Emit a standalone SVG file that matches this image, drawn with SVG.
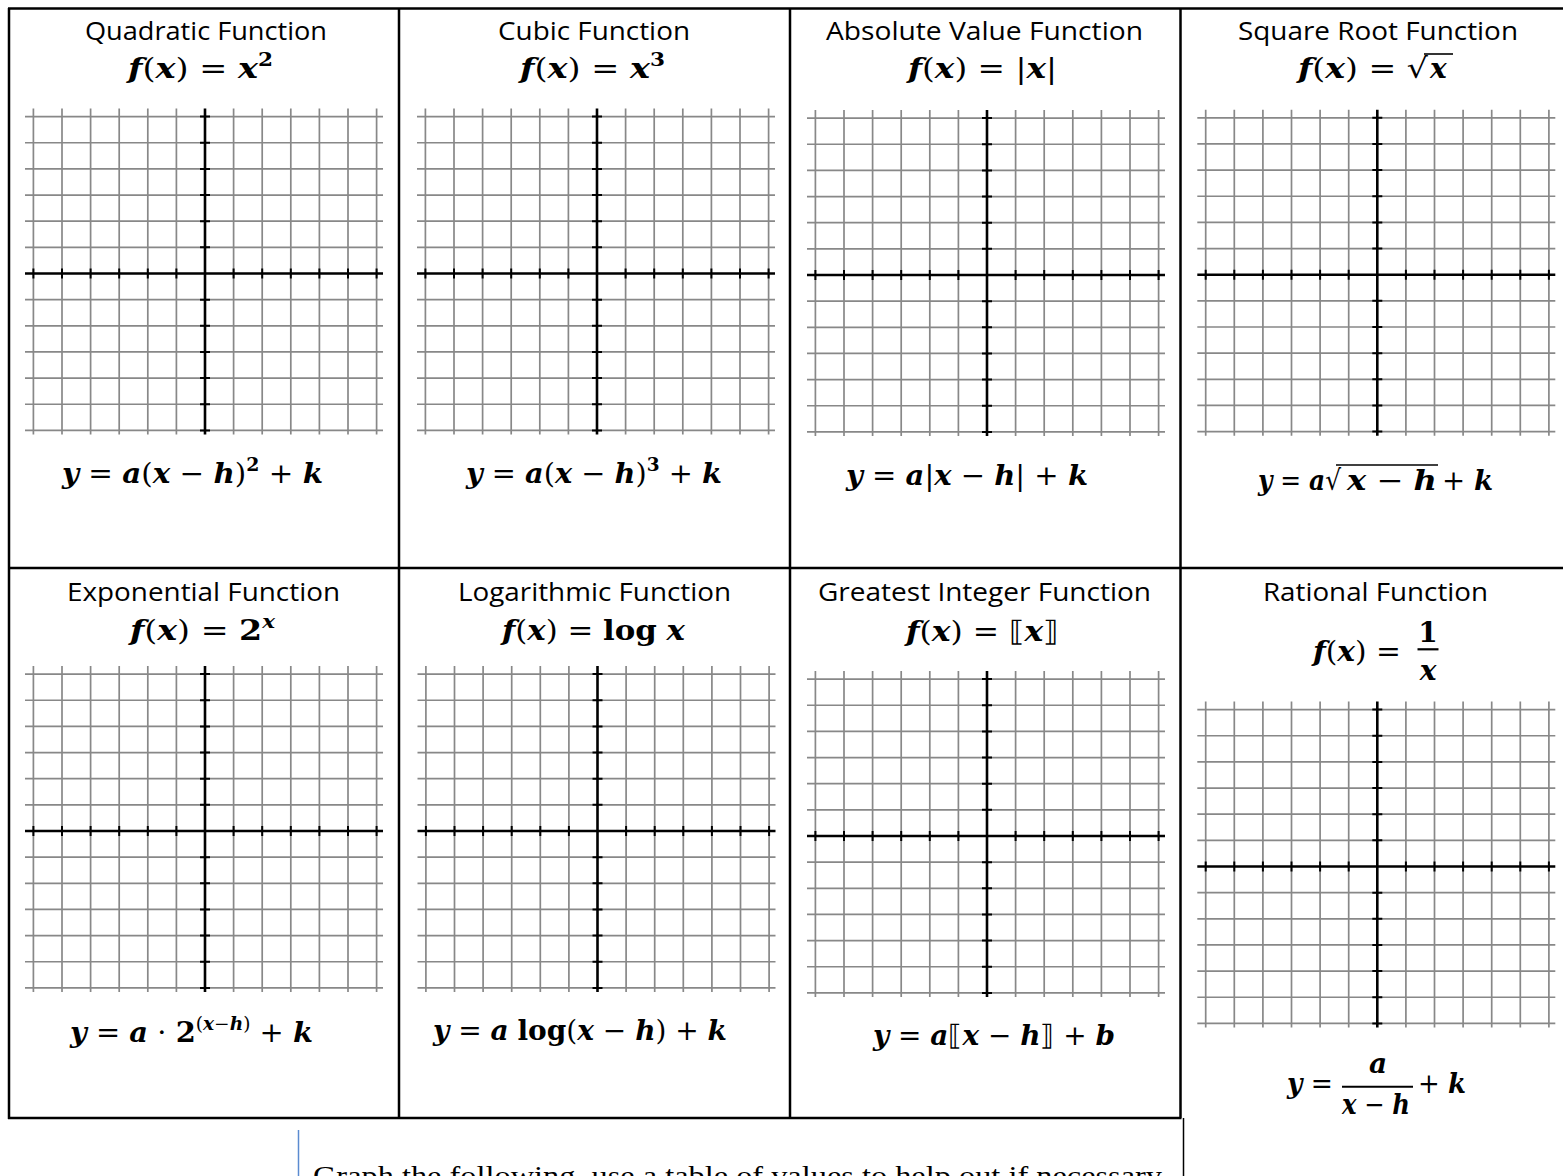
<svg xmlns="http://www.w3.org/2000/svg" xmlns:xlink="http://www.w3.org/1999/xlink" width="1563" height="1176" viewBox="0 0 1563 1176">
<style>
.t{font-family:"Open Sans","Liberation Sans",sans-serif;font-size:25px;fill:#000;text-anchor:middle}
.m{font-family:"DejaVu Serif","Liberation Serif",serif;font-size:28px;fill:#000}
.v{font-weight:bold;font-style:italic}
.b{font-weight:bold}
.s{font-size:18px}
.gl{stroke:#888;stroke-width:1.7;fill:none}
.ax{stroke:#000;stroke-width:2.6;fill:none}
.tk{stroke:#000;stroke-width:2;fill:none}
.bd{stroke:#000;stroke-width:2.5;fill:none}
.vin{stroke:#000;stroke-width:1.6}
.bt{font-family:"Liberation Serif",serif;font-size:28px;fill:#000}
</style>
<defs>
<g id="grid">
<path class="gl" d="M-171.6,-165V161M-143,-165V161M-114.4,-165V161M-85.8,-165V161M-57.2,-165V161M-28.6,-165V161M28.6,-165V161M57.2,-165V161M85.8,-165V161M114.4,-165V161M143,-165V161M171.6,-165V161M-180,-156.9H178M-180,-130.75H178M-180,-104.6H178M-180,-78.45H178M-180,-52.3H178M-180,-26.15H178M-180,26.15H178M-180,52.3H178M-180,78.45H178M-180,104.6H178M-180,130.75H178M-180,156.9H178"/>
<path class="ax" d="M-180,0H178M0,-165V161"/>
<path class="tk" d="M-171.6,-5V5M-143,-5V5M-114.4,-5V5M-85.8,-5V5M-57.2,-5V5M-28.6,-5V5M28.6,-5V5M57.2,-5V5M85.8,-5V5M114.4,-5V5M143,-5V5M171.6,-5V5M-5,-156.9H5M-5,-130.75H5M-5,-104.6H5M-5,-78.45H5M-5,-52.3H5M-5,-26.15H5M-5,26.15H5M-5,52.3H5M-5,78.45H5M-5,104.6H5M-5,130.75H5M-5,156.9H5"/>
</g>
</defs>
<rect width="1563" height="1176" fill="#fff"/>

<g id="table-lines">
<path class="bd" d="M8,8.5H1563M9,8V1119M8,568H1563M8,1118H1181.5M399,8V1118M790,8V1118M1180.5,8V1118"/>
<path d="M1183.5,1118V1176" stroke="#000" stroke-width="1.5"/>
<path d="M298.5,1130V1176" stroke="#5b8bd0" stroke-width="1.5"/>
</g>

<g id="quadratic">
<text class="t" x="206" y="40" textLength="242" lengthAdjust="spacingAndGlyphs">Quadratic Function</text>
<text class="m" x="128" y="78" textLength="145" lengthAdjust="spacingAndGlyphs"><tspan class="v">f</tspan>(<tspan class="v">x</tspan>) =  <tspan class="v">x</tspan><tspan class="b s" dy="-12">2</tspan></text>
<use xlink:href="#grid" href="#grid" x="205" y="273.5"/>
<text class="m" x="62" y="483" textLength="261" lengthAdjust="spacingAndGlyphs"><tspan class="v">y</tspan> =  <tspan class="v">a</tspan>(<tspan class="v">x</tspan> − <tspan class="v">h</tspan>)<tspan class="b s" dy="-12">2</tspan><tspan dy="12"> + </tspan><tspan class="v">k</tspan></text>
</g>

<g id="cubic">
<text class="t" x="594" y="40" textLength="192" lengthAdjust="spacingAndGlyphs">Cubic Function</text>
<text class="m" x="520" y="78" textLength="145" lengthAdjust="spacingAndGlyphs"><tspan class="v">f</tspan>(<tspan class="v">x</tspan>) =  <tspan class="v">x</tspan><tspan class="b s" dy="-12">3</tspan></text>
<use xlink:href="#grid" href="#grid" x="597" y="273.5"/>
<text class="m" x="466" y="483" textLength="256" lengthAdjust="spacingAndGlyphs"><tspan class="v">y</tspan> = <tspan class="v">a</tspan>(<tspan class="v">x</tspan> − <tspan class="v">h</tspan>)<tspan class="b s" dy="-12">3</tspan><tspan dy="12"> + </tspan><tspan class="v">k</tspan></text>
</g>

<g id="absolute-value">
<text class="t" x="984.5" y="40" textLength="317" lengthAdjust="spacingAndGlyphs">Absolute Value Function</text>
<text class="m" x="908" y="78" textLength="149" lengthAdjust="spacingAndGlyphs"><tspan class="v">f</tspan>(<tspan class="v">x</tspan>) =  |<tspan class="v">x</tspan>|</text>
<use xlink:href="#grid" href="#grid" x="987" y="275"/>
<text class="m" x="846" y="485" textLength="242" lengthAdjust="spacingAndGlyphs"><tspan class="v">y</tspan> =  <tspan class="v">a</tspan>|<tspan class="v">x</tspan> − <tspan class="v">h</tspan>| + <tspan class="v">k</tspan></text>
</g>

<g id="square-root">
<text class="t" x="1378" y="40" textLength="280" lengthAdjust="spacingAndGlyphs">Square Root Function</text>
<text class="m" x="1298" y="78" textLength="130" lengthAdjust="spacingAndGlyphs"><tspan class="v">f</tspan>(<tspan class="v">x</tspan>) =  √</text>
<text class="m v" x="1430" y="78">x</text>
<line class="vin" x1="1424" y1="54" x2="1453" y2="54"/>
<use xlink:href="#grid" href="#grid" x="1377.3" y="274.7"/>
<text class="m" x="1258" y="490" textLength="83" lengthAdjust="spacingAndGlyphs"><tspan class="v">y</tspan> = <tspan class="v">a</tspan>√</text>
<text class="m" x="1347" y="490" textLength="90" lengthAdjust="spacingAndGlyphs"><tspan class="v">x</tspan> − <tspan class="v">h</tspan></text>
<line class="vin" x1="1336" y1="465" x2="1438" y2="465"/>
<text class="m" x="1442" y="490" textLength="51" lengthAdjust="spacingAndGlyphs">+ <tspan class="v">k</tspan></text>
</g>

<g id="exponential">
<text class="t" x="203.5" y="601" textLength="273" lengthAdjust="spacingAndGlyphs">Exponential Function</text>
<text class="m" x="130" y="640" textLength="145" lengthAdjust="spacingAndGlyphs"><tspan class="v">f</tspan>(<tspan class="v">x</tspan>) =  <tspan class="b">2</tspan><tspan class="v s" dy="-12">x</tspan></text>
<use xlink:href="#grid" href="#grid" x="205" y="831"/>
<text class="m" x="70" y="1042" textLength="243" lengthAdjust="spacingAndGlyphs"><tspan class="v">y</tspan> = <tspan class="v">a</tspan> · <tspan class="b">2</tspan><tspan class="s" dy="-12">(<tspan class="v">x</tspan>−<tspan class="v">h</tspan>)</tspan><tspan dy="12"> + </tspan><tspan class="v">k</tspan></text>
</g>

<g id="logarithmic">
<text class="t" x="594.5" y="601" textLength="273" lengthAdjust="spacingAndGlyphs">Logarithmic Function</text>
<text class="m" x="502" y="640" textLength="183" lengthAdjust="spacingAndGlyphs"><tspan class="v">f</tspan>(<tspan class="v">x</tspan>) =  <tspan class="b">log</tspan> <tspan class="v">x</tspan></text>
<use xlink:href="#grid" href="#grid" x="597.5" y="831"/>
<text class="m" x="433" y="1040" textLength="294" lengthAdjust="spacingAndGlyphs"><tspan class="v">y</tspan> = <tspan class="v">a</tspan> <tspan class="b">log</tspan>(<tspan class="v">x</tspan> − <tspan class="v">h</tspan>) + <tspan class="v">k</tspan></text>
</g>

<g id="greatest-integer">
<text class="t" x="984.5" y="601" textLength="333" lengthAdjust="spacingAndGlyphs">Greatest Integer Function</text>
<text class="m" x="906" y="641" textLength="153" lengthAdjust="spacingAndGlyphs"><tspan class="v">f</tspan>(<tspan class="v">x</tspan>) =  ⟦<tspan class="v">x</tspan>⟧</text>
<use xlink:href="#grid" href="#grid" x="987" y="836"/>
<text class="m" x="873" y="1045" textLength="242" lengthAdjust="spacingAndGlyphs"><tspan class="v">y</tspan> = <tspan class="v">a</tspan>⟦<tspan class="v">x</tspan> − <tspan class="v">h</tspan>⟧ + <tspan class="v">b</tspan></text>
</g>

<g id="rational">
<text class="t" x="1375.5" y="601" textLength="225" lengthAdjust="spacingAndGlyphs">Rational Function</text>
<text class="m" x="1313" y="661" textLength="88" lengthAdjust="spacingAndGlyphs"><tspan class="v">f</tspan>(<tspan class="v">x</tspan>) =</text>
<text class="m b" x="1428" y="642" text-anchor="middle">1</text>
<line x1="1417.5" y1="649.3" x2="1438.5" y2="649.3" stroke="#000" stroke-width="2.2"/>
<text class="m v" x="1428" y="680" text-anchor="middle">x</text>
<use xlink:href="#grid" href="#grid" x="1377.3" y="866.5"/>
<text class="m" x="1287" y="1093" textLength="46" lengthAdjust="spacingAndGlyphs"><tspan class="v">y</tspan> =</text>
<text class="m v" x="1378" y="1073" text-anchor="middle">a</text>
<line x1="1342" y1="1086.7" x2="1413" y2="1086.7" stroke="#000" stroke-width="2"/>
<text class="m" x="1342" y="1114" textLength="68" lengthAdjust="spacingAndGlyphs"><tspan class="v">x</tspan> − <tspan class="v">h</tspan></text>
<text class="m" x="1418" y="1093" textLength="48" lengthAdjust="spacingAndGlyphs">+ <tspan class="v">k</tspan></text>
</g>

<g id="instruction">
<text class="bt" x="313" y="1185" textLength="849" lengthAdjust="spacingAndGlyphs">Graph the following, use a table of values to help out if necessary</text>
</g>
</svg>
